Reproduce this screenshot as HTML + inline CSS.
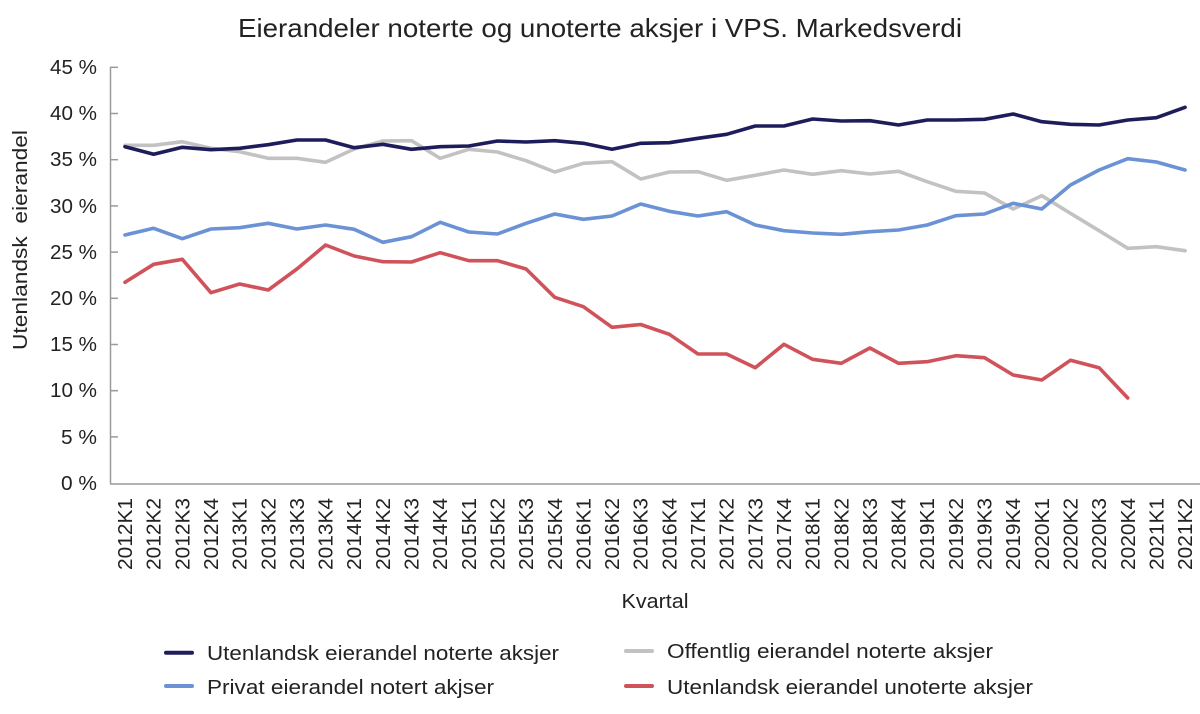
<!DOCTYPE html>
<html>
<head>
<meta charset="utf-8">
<style>
html,body{margin:0;padding:0;background:#fff;}
svg{display:block;}
text{font-family:"Liberation Sans",sans-serif;fill:#222;}
</style>
</head>
<body>
<svg width="1200" height="714" viewBox="0 0 1200 714" xmlns="http://www.w3.org/2000/svg">
<rect width="1200" height="714" fill="#fff"/>
<text x="600" y="37" font-size="26" text-anchor="middle" textLength="724" lengthAdjust="spacingAndGlyphs">Eierandeler noterte og unoterte aksjer i VPS. Markedsverdi</text>

<!-- axes -->
<g stroke="#9a9a9a" stroke-width="1.5" fill="none">
<line x1="110.5" y1="67" x2="110.5" y2="484"/>
<line x1="110" y1="484" x2="1200" y2="484"/>
<line x1="110" y1="67.3" x2="118" y2="67.3"/>
<line x1="110" y1="113.5" x2="118" y2="113.5"/>
<line x1="110" y1="159.7" x2="118" y2="159.7"/>
<line x1="110" y1="205.9" x2="118" y2="205.9"/>
<line x1="110" y1="252.1" x2="118" y2="252.1"/>
<line x1="110" y1="298.3" x2="118" y2="298.3"/>
<line x1="110" y1="344.5" x2="118" y2="344.5"/>
<line x1="110" y1="390.7" x2="118" y2="390.7"/>
<line x1="110" y1="436.9" x2="118" y2="436.9"/>
</g>

<g font-size="20" text-anchor="end">
<text x="97" y="74" textLength="47" lengthAdjust="spacingAndGlyphs">45 %</text>
<text x="97" y="120" textLength="47" lengthAdjust="spacingAndGlyphs">40 %</text>
<text x="97" y="166" textLength="47" lengthAdjust="spacingAndGlyphs">35 %</text>
<text x="97" y="213" textLength="47" lengthAdjust="spacingAndGlyphs">30 %</text>
<text x="97" y="259" textLength="47" lengthAdjust="spacingAndGlyphs">25 %</text>
<text x="97" y="305" textLength="47" lengthAdjust="spacingAndGlyphs">20 %</text>
<text x="97" y="351" textLength="47" lengthAdjust="spacingAndGlyphs">15 %</text>
<text x="97" y="397" textLength="47" lengthAdjust="spacingAndGlyphs">10 %</text>
<text x="97" y="444" textLength="36" lengthAdjust="spacingAndGlyphs">5 %</text>
<text x="97" y="490" textLength="36" lengthAdjust="spacingAndGlyphs">0 %</text>
</g>

<text transform="translate(27,240) rotate(-90)" font-size="20" text-anchor="middle" textLength="220" lengthAdjust="spacingAndGlyphs" xml:space="preserve">Utenlandsk  eierandel</text>

<!-- x labels -->
<g font-size="20" text-anchor="end">
<text transform="translate(132,498) rotate(-90)" textLength="72" lengthAdjust="spacingAndGlyphs">2012K1</text>
<text transform="translate(160.65,498) rotate(-90)" textLength="72" lengthAdjust="spacingAndGlyphs">2012K2</text>
<text transform="translate(189.3,498) rotate(-90)" textLength="72" lengthAdjust="spacingAndGlyphs">2012K3</text>
<text transform="translate(217.95,498) rotate(-90)" textLength="72" lengthAdjust="spacingAndGlyphs">2012K4</text>
<text transform="translate(246.6,498) rotate(-90)" textLength="72" lengthAdjust="spacingAndGlyphs">2013K1</text>
<text transform="translate(275.25,498) rotate(-90)" textLength="72" lengthAdjust="spacingAndGlyphs">2013K2</text>
<text transform="translate(303.9,498) rotate(-90)" textLength="72" lengthAdjust="spacingAndGlyphs">2013K3</text>
<text transform="translate(332.55,498) rotate(-90)" textLength="72" lengthAdjust="spacingAndGlyphs">2013K4</text>
<text transform="translate(361.2,498) rotate(-90)" textLength="72" lengthAdjust="spacingAndGlyphs">2014K1</text>
<text transform="translate(389.85,498) rotate(-90)" textLength="72" lengthAdjust="spacingAndGlyphs">2014K2</text>
<text transform="translate(418.5,498) rotate(-90)" textLength="72" lengthAdjust="spacingAndGlyphs">2014K3</text>
<text transform="translate(447.15,498) rotate(-90)" textLength="72" lengthAdjust="spacingAndGlyphs">2014K4</text>
<text transform="translate(475.8,498) rotate(-90)" textLength="72" lengthAdjust="spacingAndGlyphs">2015K1</text>
<text transform="translate(504.45,498) rotate(-90)" textLength="72" lengthAdjust="spacingAndGlyphs">2015K2</text>
<text transform="translate(533.1,498) rotate(-90)" textLength="72" lengthAdjust="spacingAndGlyphs">2015K3</text>
<text transform="translate(561.75,498) rotate(-90)" textLength="72" lengthAdjust="spacingAndGlyphs">2015K4</text>
<text transform="translate(590.4,498) rotate(-90)" textLength="72" lengthAdjust="spacingAndGlyphs">2016K1</text>
<text transform="translate(619.05,498) rotate(-90)" textLength="72" lengthAdjust="spacingAndGlyphs">2016K2</text>
<text transform="translate(647.7,498) rotate(-90)" textLength="72" lengthAdjust="spacingAndGlyphs">2016K3</text>
<text transform="translate(676.35,498) rotate(-90)" textLength="72" lengthAdjust="spacingAndGlyphs">2016K4</text>
<text transform="translate(705,498) rotate(-90)" textLength="72" lengthAdjust="spacingAndGlyphs">2017K1</text>
<text transform="translate(733.65,498) rotate(-90)" textLength="72" lengthAdjust="spacingAndGlyphs">2017K2</text>
<text transform="translate(762.3,498) rotate(-90)" textLength="72" lengthAdjust="spacingAndGlyphs">2017K3</text>
<text transform="translate(790.95,498) rotate(-90)" textLength="72" lengthAdjust="spacingAndGlyphs">2017K4</text>
<text transform="translate(819.6,498) rotate(-90)" textLength="72" lengthAdjust="spacingAndGlyphs">2018K1</text>
<text transform="translate(848.25,498) rotate(-90)" textLength="72" lengthAdjust="spacingAndGlyphs">2018K2</text>
<text transform="translate(876.9,498) rotate(-90)" textLength="72" lengthAdjust="spacingAndGlyphs">2018K3</text>
<text transform="translate(905.55,498) rotate(-90)" textLength="72" lengthAdjust="spacingAndGlyphs">2018K4</text>
<text transform="translate(934.2,498) rotate(-90)" textLength="72" lengthAdjust="spacingAndGlyphs">2019K1</text>
<text transform="translate(962.85,498) rotate(-90)" textLength="72" lengthAdjust="spacingAndGlyphs">2019K2</text>
<text transform="translate(991.5,498) rotate(-90)" textLength="72" lengthAdjust="spacingAndGlyphs">2019K3</text>
<text transform="translate(1020.15,498) rotate(-90)" textLength="72" lengthAdjust="spacingAndGlyphs">2019K4</text>
<text transform="translate(1048.8,498) rotate(-90)" textLength="72" lengthAdjust="spacingAndGlyphs">2020K1</text>
<text transform="translate(1077.45,498) rotate(-90)" textLength="72" lengthAdjust="spacingAndGlyphs">2020K2</text>
<text transform="translate(1106.1,498) rotate(-90)" textLength="72" lengthAdjust="spacingAndGlyphs">2020K3</text>
<text transform="translate(1134.75,498) rotate(-90)" textLength="72" lengthAdjust="spacingAndGlyphs">2020K4</text>
<text transform="translate(1163.4,498) rotate(-90)" textLength="72" lengthAdjust="spacingAndGlyphs">2021K1</text>
<text transform="translate(1192.05,498) rotate(-90)" textLength="72" lengthAdjust="spacingAndGlyphs">2021K2</text>
</g>

<text x="655" y="608" font-size="20" text-anchor="middle" textLength="67" lengthAdjust="spacingAndGlyphs">Kvartal</text>

<!-- series -->
<g fill="none" stroke-width="3.6" stroke-linejoin="round" stroke-linecap="round">
<polyline stroke="#c2c2c2" points="125,145.3 153.65,145.3 182.3,141.7 210.95,148.3 239.6,151.7 268.25,158.3 296.9,158.3 325.55,162.3 354.2,149 382.85,141 411.5,140.7 440.15,158.3 468.8,149.3 497.45,152 526.1,160.7 554.75,172 583.4,163.3 612.05,161.7 640.7,179 669.35,172 698,171.7 726.65,180.3 755.3,175.3 783.95,170 812.6,174.3 841.25,170.7 869.9,174 898.55,171.3 927.2,181.7 955.85,191.3 984.5,193 1013.15,209 1041.8,195.7 1070.45,213.3 1099.1,230.7 1127.75,248.3 1156.4,246.7 1185.05,250.7"/>
<polyline stroke="#6a92d4" points="125,235 153.65,228.3 182.3,238.7 210.95,229 239.6,227.7 268.25,223.3 296.9,229 325.55,225 354.2,229.3 382.85,242.3 411.5,236.7 440.15,222.3 468.8,232 497.45,234 526.1,223.3 554.75,214 583.4,219.3 612.05,216 640.7,204 669.35,211.3 698,216 726.65,211.7 755.3,225 783.95,230.7 812.6,233 841.25,234.3 869.9,231.7 898.55,230 927.2,225 955.85,215.7 984.5,214 1013.15,203.3 1041.8,209 1070.45,185 1099.1,170 1127.75,158.7 1156.4,162 1185.05,170"/>
<polyline stroke="#1e1d5c" points="125,146.7 153.65,154.3 182.3,147.3 210.95,149.7 239.6,148.3 268.25,144.7 296.9,140 325.55,140 354.2,147.7 382.85,144.3 411.5,149.3 440.15,146.7 468.8,146 497.45,141 526.1,142 554.75,140.7 583.4,143.3 612.05,149.3 640.7,143.3 669.35,142.7 698,138.3 726.65,134.3 755.3,126 783.95,126 812.6,119 841.25,121 869.9,120.7 898.55,125 927.2,120 955.85,120 984.5,119.3 1013.15,114 1041.8,121.7 1070.45,124.3 1099.1,125 1127.75,120 1156.4,117.7 1185.05,107.3"/>
<polyline stroke="#d0525a" points="125,282.3 153.65,264.3 182.3,259.3 210.95,292.7 239.6,284 268.25,290 296.9,269 325.55,245 354.2,256 382.85,261.7 411.5,262 440.15,252.7 468.8,260.7 497.45,260.7 526.1,269 554.75,297.3 583.4,306.7 612.05,327.3 640.7,324.5 669.35,334.3 698,354 726.65,354 755.3,367.7 783.95,344.3 812.6,359.3 841.25,363.3 869.9,348 898.55,363.3 927.2,361.7 955.85,355.7 984.5,357.7 1013.15,375 1041.8,380 1070.45,360.3 1099.1,367.7 1127.75,398"/>
</g>

<!-- legend -->
<g stroke-width="4" stroke-linecap="round">
<line x1="166" y1="652.7" x2="192" y2="652.7" stroke="#1e1d5c"/>
<line x1="166" y1="686" x2="192" y2="686" stroke="#6a92d4"/>
<line x1="626" y1="651" x2="652" y2="651" stroke="#c2c2c2"/>
<line x1="626" y1="686" x2="652" y2="686" stroke="#d0525a"/>
</g>
<g font-size="20">
<text x="207" y="660" textLength="352" lengthAdjust="spacingAndGlyphs">Utenlandsk eierandel noterte aksjer</text>
<text x="207" y="694" textLength="287" lengthAdjust="spacingAndGlyphs">Privat eierandel notert akjser</text>
<text x="667" y="658" textLength="326" lengthAdjust="spacingAndGlyphs">Offentlig eierandel noterte aksjer</text>
<text x="667" y="694" textLength="366" lengthAdjust="spacingAndGlyphs">Utenlandsk eierandel unoterte aksjer</text>
</g>
</svg>
</body>
</html>
